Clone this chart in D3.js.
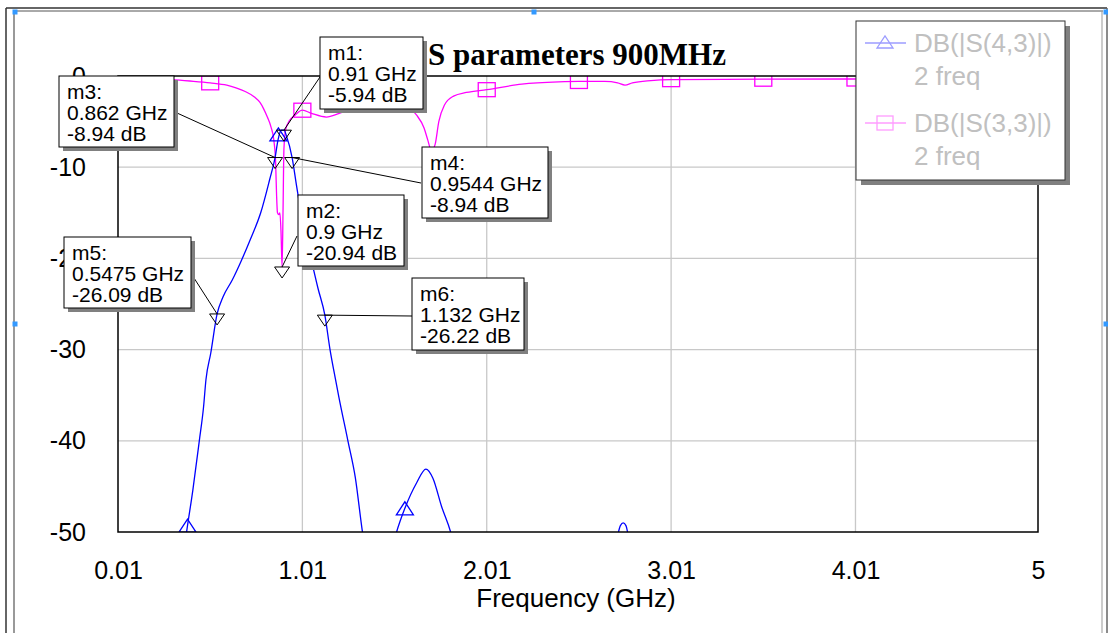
<!DOCTYPE html>
<meta charset="utf-8">
<style>
body {
    margin: 0px;
    background: white;
    font-family: "Liberation Sans", Arial, sans-serif;
}
.tick text {
  font-size: 25px;
  fill: black;
}
.box-text {
  font-size: 21px;
  fill: black;
}
.legend-text {
  font-size: 26px;
  fill: #c0c0c0;
}
.title {
  font-family: "Liberation Serif", "Times New Roman", serif;
  font-weight: bold;
  font-size: 31px;
}
</style>
<body>
<script src="https://d3js.org/d3.v7.min.js"></script>
<script>
var width = 1108,
    height = 633

// DB(|S(4,3)|)
var freqS43 = [0.30, 0.36, 0.387, 0.416, 0.451, 0.474, 0.487, 0.513, 0.5475, 0.58, 0.629, 0.68, 0.726, 0.784, 0.832,
               0.862, 0.878, 0.895, 0.91, 0.925, 0.9544, 0.979, 1.006, 1.05, 1.095, 1.132, 1.16, 1.19, 1.208, 1.257,
               1.297, 1.336, 1.37, 1.45, 1.521, 1.566, 1.63, 1.68, 1.718, 1.765, 1.814, 1.86, 2.2, 2.70, 2.735, 2.75,
               2.765, 2.80, 3.2, 5.0]
var dbS43 = [-58, -53, -49.3, -45.4, -40, -36.3, -33.3, -30.4, -26.09, -24.2, -22.4, -20.2, -18, -15, -11.4,
             -8.94, -7, -5.95, -5.94, -6.65, -8.94, -12.1, -15.4, -19.4, -23.3, -26.22, -30, -33.3, -35.2, -40,
             -44, -50, -54, -56, -50, -47.4, -44.6, -43.1, -44.1, -47.2, -50, -54, -62, -52, -49.3, -49,
             -49.3, -53, -62, -62]

// DB(|S(3,3)|)
var freqS33 = [0.01, 0.1, 0.2, 0.3, 0.4, 0.51, 0.6, 0.65, 0.7, 0.75, 0.78, 0.80, 0.82, 0.84, 0.855, 0.865,
               0.87, 0.875, 0.882, 0.888, 0.894, 0.9, 0.905, 0.91, 0.92, 0.94, 0.97, 1.01, 1.06, 1.14, 1.21, 1.3,
               1.4, 1.5, 1.58, 1.63, 1.67, 1.69, 1.71, 1.73, 1.75, 1.78, 1.83, 1.9, 2.01, 2.2, 2.4, 2.51, 2.65,
               2.72, 2.76, 2.8, 2.9, 3.01, 3.5, 4.0, 5.0]
var dbS33 = [-0.15, -0.2, -0.3, -0.4, -0.55, -0.75, -1.0, -1.3, -1.7, -2.3, -2.9, -3.6, -4.5, -5.6, -7, -9.5,
             -13, -15, -15.2, -15, -17, -20.94, -15, -8, -5.8, -4.9, -4.3, -3.75, -4.1, -4.5, -4.1, -3.4,
             -3.0, -3.0, -3.4, -4.3, -5.7, -7, -8.2, -7.5, -5, -3.2, -2.2, -1.8, -1.5, -0.9, -0.65, -0.6, -0.6,
             -0.75, -1.0, -0.75, -0.5, -0.4, -0.35, -0.33, -0.33]

// symbols drawn on the traces
var triFreq = [0.387, 0.88, 1.566]
var triDb = [-49.3, -6.4, -47.4]
var sqFreq = [0.01, 0.51, 1.01, 1.51, 2.01, 2.51, 3.01, 3.51, 4.01, 4.51, 5.0]
var sqDb = [-0.15, -0.75, -3.75, -3.0, -1.5, -0.6, -0.4, -0.35, -0.33, -0.33, -0.33]

// markers
var markerNames = ["m1", "m2", "m3", "m4", "m5", "m6"]
var markerFreq = [0.91, 0.9, 0.862, 0.9544, 0.5475, 1.132]
var markerDb = [-5.94, -20.94, -8.94, -8.94, -26.09, -26.22]

// ticks / labels
var xTicks = [0.01, 1.01, 2.01, 3.01, 4.01, 5]
var yTicks = [0, -10, -20, -30, -40, -50]
var legendNames = ["DB(|S(4,3)|)", "DB(|S(3,3)|)"]
var legendSub = "2 freq"
var title = "S parameters 900MHz"
var xTitle = "Frequency (GHz)"

// marker box layout: x, y, w, h, leader start x, y
var boxLayout = [
  [320, 37, 103, 72, 320, 77],
  [298, 195, 106, 71, 297, 236],
  [59, 76, 115, 71, 177, 113],
  [422, 147, 126, 71, 421, 183],
  [64, 237, 127, 71, 194, 278],
  [412, 278, 112, 72, 412, 316]
]

var pLeft = 118, pRight = 1038, pTop = 76, pBottom = 532

var x = d3.scaleLinear().domain([0.01, 5]).range([pLeft, pRight])
var y = d3.scaleLinear().domain([0, -50]).range([pTop, pBottom])

var svg = d3.select("body").append("svg")
    .attr("width", width)
    .attr("height", height)

// outer frame of the embedded object
var frame = svg.append("g")
frame.append("line").attr("x1", 6).attr("x2", 6).attr("y1", 8).attr("y2", height).attr("stroke", "#333").attr("stroke-width", 1.5)
frame.append("line").attr("x1", 14).attr("x2", 14).attr("y1", 11).attr("y2", height).attr("stroke", "#777").attr("stroke-width", 1.5)
frame.append("line").attr("x1", 6).attr("x2", 1107).attr("y1", 8).attr("y2", 8).attr("stroke", "#333").attr("stroke-width", 1.5)
frame.append("line").attr("x1", 14).attr("x2", 1103).attr("y1", 11).attr("y2", 11).attr("stroke", "#555").attr("stroke-width", 1)
frame.append("line").attr("x1", 1102).attr("x2", 1102).attr("y1", 11).attr("y2", height).attr("stroke", "#999").attr("stroke-width", 1)
frame.append("line").attr("x1", 1107).attr("x2", 1107).attr("y1", 8).attr("y2", height).attr("stroke", "#666").attr("stroke-width", 1.5)

// grid
var grid = svg.append("g").attr("stroke", "#c8c8c8").attr("stroke-width", 1.3)
grid.selectAll(".vg").data(xTicks.slice(1, -1)).enter().append("line")
    .attr("x1", d => x(d)).attr("x2", d => x(d)).attr("y1", pTop).attr("y2", pBottom)
grid.selectAll(".hg").data(yTicks.slice(1, -1)).enter().append("line")
    .attr("x1", pLeft).attr("x2", pRight).attr("y1", d => y(d)).attr("y2", d => y(d))

svg.append("clipPath").attr("id", "plot-clip")
  .append("rect").attr("x", pLeft).attr("y", pTop).attr("width", pRight - pLeft).attr("height", pBottom - pTop)

var plot = svg.append("g").attr("clip-path", "url(#plot-clip)")

var line = d3.line()
    .x(d => x(d[0]))
    .y(d => y(d[1]))
    .curve(d3.curveMonotoneX)

plot.append("path")
    .datum(d3.zip(freqS33, dbS33))
    .attr("d", line)
    .attr("fill", "none")
    .attr("stroke", "#ff00ff")
    .attr("stroke-width", 1.3)

plot.append("path")
    .datum(d3.zip(freqS43, dbS43))
    .attr("d", line)
    .attr("fill", "none")
    .attr("stroke", "#0000ff")
    .attr("stroke-width", 1.3)

plot.selectAll(".sq").data(d3.zip(sqFreq, sqDb)).enter().append("rect")
    .attr("x", d => x(d[0]) - 8.5).attr("y", d => y(d[1]) - 7)
    .attr("width", 17).attr("height", 14)
    .attr("fill", "none").attr("stroke", "#ff00ff").attr("stroke-width", 1.3)

plot.selectAll(".tri").data(d3.zip(triFreq, triDb)).enter().append("path")
    .attr("d", d => "M" + (x(d[0]) - 8.5) + "," + (y(d[1]) + 6.5) + "L" + x(d[0]) + "," + (y(d[1]) - 6.5) +
                    "L" + (x(d[0]) + 8.5) + "," + (y(d[1]) + 6.5) + "Z")
    .attr("fill", "none").attr("stroke", "#0000ff").attr("stroke-width", 1.3)

// plot border
svg.append("rect")
    .attr("x", pLeft).attr("y", pTop).attr("width", pRight - pLeft).attr("height", pBottom - pTop)
    .attr("fill", "none").attr("stroke", "black").attr("stroke-width", 1.5)

// axes
var xAxis = svg.append("g")
    .attr("transform", "translate(0," + pBottom + ")")
    .call(d3.axisBottom(x).tickValues(xTicks).tickSize(0).tickPadding(29).tickFormat(d => String(d)))
xAxis.select(".domain").remove()
xAxis.selectAll("text").attr("font-family", "Liberation Sans, Arial, sans-serif")

var yAxis = svg.append("g")
    .attr("transform", "translate(" + pLeft + ",0)")
    .call(d3.axisLeft(y).tickValues(yTicks).tickSize(0).tickPadding(32).tickFormat(d => String(d)))
yAxis.select(".domain").remove()
yAxis.selectAll("text").attr("font-family", "Liberation Sans, Arial, sans-serif")

svg.append("text")
    .attr("x", 576).attr("y", 607)
    .attr("text-anchor", "middle")
    .style("font-size", "26px")
    .text(xTitle)

svg.append("text")
    .attr("class", "title")
    .attr("x", 577).attr("y", 65)
    .attr("text-anchor", "middle")
    .text(title)

// markers: inverted triangles + leader lines + boxes
var markers = markerNames.map((n, i) => ({name: n, f: markerFreq[i], db: markerDb[i], box: boxLayout[i]}))

svg.selectAll(".mk").data(markers).enter().append("path")
    .attr("d", d => "M" + (x(d.f) - 7.5) + "," + y(d.db) + "L" + x(d.f) + "," + (y(d.db) + 11) +
                    "L" + (x(d.f) + 7.5) + "," + y(d.db) + "Z")
    .attr("fill", "none").attr("stroke", "black").attr("stroke-width", 1)

svg.selectAll(".leader").data(markers).enter().append("line")
    .attr("x1", d => d.box[4]).attr("y1", d => d.box[5])
    .attr("x2", d => x(d.f)).attr("y2", d => y(d.db))
    .attr("stroke", "black").attr("stroke-width", 1)

var box = svg.selectAll(".mbox").data(markers).enter().append("g")
    .attr("transform", d => "translate(" + d.box[0] + "," + d.box[1] + ")")

box.append("rect")
    .attr("x", 4).attr("y", 4)
    .attr("width", d => d.box[2]).attr("height", d => d.box[3])
    .attr("fill", "#808080")
box.append("rect")
    .attr("width", d => d.box[2]).attr("height", d => d.box[3])
    .attr("fill", "white").attr("stroke", "black").attr("stroke-width", 1)

box.each(function(d) {
    var lines = [d.name + ":", d.f + " GHz", d.db.toFixed(2) + " dB"]
    d3.select(this).selectAll("text").data(lines).enter().append("text")
        .attr("class", "box-text")
        .attr("x", 8)
        .attr("y", (t, i) => 16 + i * 21)
        .attr("dy", "0.35em")
        .text(t => t)
})

// legend
var lg = svg.append("g").attr("transform", "translate(856,21)")
lg.append("rect").attr("x", 5).attr("y", 5).attr("width", 209).attr("height", 159).attr("fill", "#808080")
lg.append("rect").attr("width", 209).attr("height", 159).attr("fill", "white").attr("stroke", "#333").attr("stroke-width", 1)

var legendColors = ["#9c9cff", "#ff9cff"]
legendNames.forEach(function(n, i) {
    var yy = 22 + i * 80
    lg.append("line").attr("x1", 9).attr("x2", 50).attr("y1", yy).attr("y2", yy)
        .attr("stroke", legendColors[i]).attr("stroke-width", 1.3)
    if (i == 0) {
        lg.append("path").attr("d", "M21," + (yy + 5) + "L29," + (yy - 7) + "L37," + (yy + 5) + "Z")
            .attr("fill", "none").attr("stroke", legendColors[i]).attr("stroke-width", 1.3)
    } else {
        lg.append("rect").attr("x", 21).attr("y", yy - 7).attr("width", 16).attr("height", 14)
            .attr("fill", "none").attr("stroke", legendColors[i]).attr("stroke-width", 1.3)
    }
    lg.append("text").attr("class", "legend-text").attr("x", 58).attr("y", yy).attr("dy", "0.35em").text(n)
    lg.append("text").attr("class", "legend-text").attr("x", 58).attr("y", yy + 33).attr("dy", "0.35em").text(legendSub)
})

// selection handles
var handles = [[15, 12], [534, 12], [1106, 12], [15, 324], [1106, 324]]
svg.selectAll(".handle").data(handles).enter().append("rect")
    .attr("x", d => d[0] - 2.5).attr("y", d => d[1] - 2.5)
    .attr("width", 5).attr("height", 5)
    .attr("fill", "#3399ff")
</script>
